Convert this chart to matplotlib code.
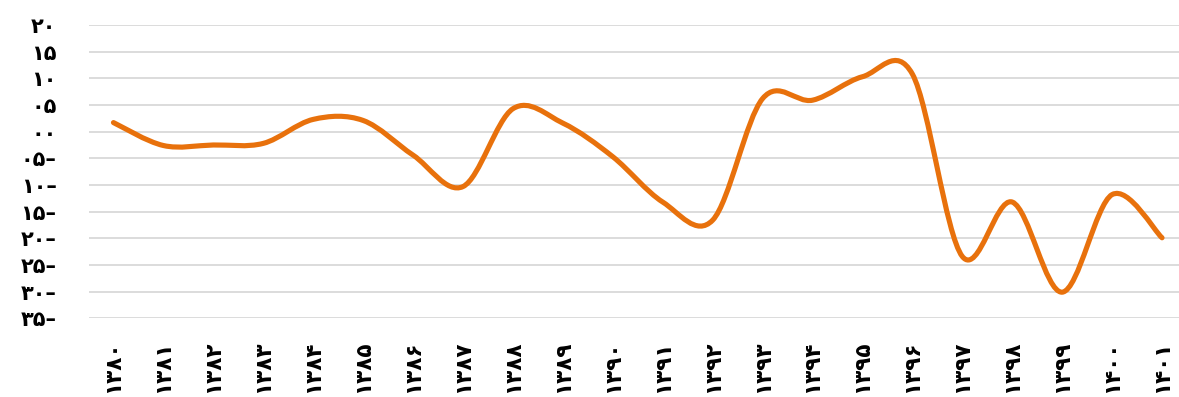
import numpy as np
import matplotlib
matplotlib.use("Agg")
import matplotlib.pyplot as plt
from matplotlib.path import Path
from matplotlib.patches import PathPatch

plt.rcParams['font.family'] = ['DejaVu Sans']

years = ["۱۳۸۰", "۱۳۸۱", "۱۳۸۲", "۱۳۸۳", "۱۳۸۴", "۱۳۸۵", "۱۳۸۶", "۱۳۸۷",
         "۱۳۸۸", "۱۳۸۹", "۱۳۹۰", "۱۳۹۱", "۱۳۹۲", "۱۳۹۳", "۱۳۹۴", "۱۳۹۵",
         "۱۳۹۶", "۱۳۹۷", "۱۳۹۸", "۱۳۹۹", "۱۴۰۰", "۱۴۰۱"]
values = [1.7, -2.6, -2.5, -2.2, 2.3, 2.1, -4.4, -10.3, 4.3, 1.6, -4.7, -13.2,
          -16.6, 6.2, 5.9, 10.3, 10.8, -23.4, -13.2, -30.1, -11.8, -19.9]
ytick_vals = [20, 15, 10, 5, 0, -5, -10, -15, -20, -25, -30, -35]
ytick_labels = ["۲۰", "۱۵", "۱۰", "۰۵", "۰۰", "۰۵–", "۱۰–", "۱۵–", "۲۰–",
                "۲۵–", "۳۰–", "۳۵–"]

W, H = 1179, 397
fig = plt.figure(figsize=(W / 100, H / 100), dpi=100)
left, right, top, bottom = 88.5, 1187, 25, 318.3
ax = fig.add_axes([left / W, (H - bottom) / H, (right - left) / W, (bottom - top) / H])

x = np.arange(len(values), dtype=float)
y = np.array(values, dtype=float)

# Smoothed line (Catmull-Rom as cubic Bezier segments)
px = np.concatenate([[x[0]], x, [x[-1]]])
py = np.concatenate([[y[0]], y, [y[-1]]])
verts = [(x[0], y[0])]
codes = [Path.MOVETO]
for i in range(len(x) - 1):
    j = i + 1
    c1 = (px[j] + (px[j + 1] - px[j - 1]) / 6, py[j] + (py[j + 1] - py[j - 1]) / 6)
    c2 = (px[j + 1] - (px[j + 2] - px[j]) / 6, py[j + 1] - (py[j + 2] - py[j]) / 6)
    verts += [c1, c2, (px[j + 1], py[j + 1])]
    codes += [Path.CURVE4] * 3
patch = PathPatch(Path(verts, codes), facecolor='none', edgecolor='#E8710C',
                  lw=3.7, capstyle='round', joinstyle='round', zorder=3)
ax.add_patch(patch)

ax.set_xlim(-0.5, len(values) - 0.5)
ax.set_ylim(-35, 20)
ax.set_yticks(ytick_vals)
ax.set_yticklabels(ytick_labels, fontsize=15, fontweight='bold')
ax.set_xticks(x)
ax.set_xticklabels(years, rotation=90, fontsize=15.5, fontweight='bold',
                   va='top', ha='center')
ax.tick_params(axis='both', length=0)
ax.tick_params(axis='y', pad=23)
ax.tick_params(axis='x', pad=16)
ax.grid(axis='y', color='#D9D9D9', lw=1.3)
ax.set_axisbelow(True)
for s in ax.spines.values():
    s.set_visible(False)

fig.savefig("out.png", dpi=100)
